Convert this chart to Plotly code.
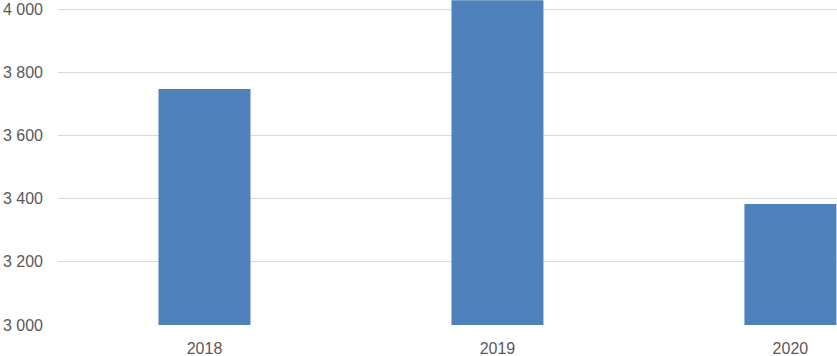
import plotly.graph_objects as go

years = ["2018", "2019", "2020"]
values = [3747, 4028, 3383]
y_ticks = [3000, 3200, 3400, 3600, 3800, 4000]

fig = go.Figure(go.Bar(x=years, y=values, marker=dict(color="#4F81BD", line=dict(width=0)), width=0.314,
                       hoverinfo="skip"))

fig.update_layout(
    width=837, height=356,
    margin=dict(l=58, r=0, t=0, b=31, pad=0),
    paper_bgcolor="white", plot_bgcolor="white",
    separators=". ",
    showlegend=False,
    font=dict(family="Liberation Sans, Arial, sans-serif", size=16, color="#595959"),
)
fig.update_xaxes(type="category", range=[-0.5, 2.159], showgrid=False, showline=False, zeroline=False,
                 ticks="", automargin=False, ticklabelstandoff=12, tickfont=dict(size=16, color="#595959"))
fig.update_yaxes(range=[3000, 4028.5], tickvals=y_ticks, tickformat=",d", showgrid=True,
                 gridcolor="#D9D9D9", gridwidth=1, zeroline=False, showline=False,
                 ticks="", automargin=False, ticklabelstandoff=14, tickfont=dict(size=16, color="#595959"))

fig.write_html("out.html", config={"displayModeBar": False},
               post_script="document.body.style.margin='0';document.body.style.overflow='hidden';")
